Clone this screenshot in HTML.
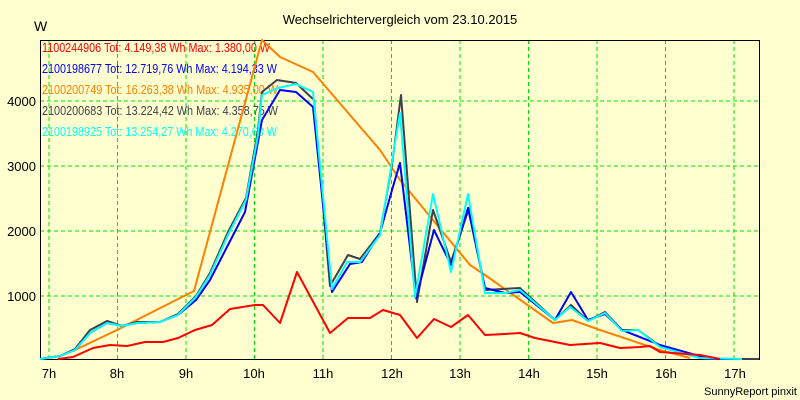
<!DOCTYPE html>
<html><head><meta charset="utf-8"><style>
html,body{margin:0;padding:0;background:#ffffd0;}
svg{display:block;font-family:"Liberation Sans",Arial,sans-serif;}
</style></head><body>
<svg width="800" height="400" viewBox="0 0 800 400" xmlns="http://www.w3.org/2000/svg">
<rect width="800" height="400" fill="#ffffd0"/>
<text x="400" y="24" font-size="13" text-anchor="middle" fill="#000">Wechselrichtervergleich vom 23.10.2015</text>
<text x="34" y="31" font-size="14" fill="#000">W</text>
<g stroke="#00e000" stroke-width="1" stroke-dasharray="4,3">
<line x1="40" y1="101" x2="759" y2="101"/><line x1="40" y1="166" x2="759" y2="166"/>
<line x1="40" y1="231" x2="759" y2="231"/><line x1="40" y1="296" x2="759" y2="296"/>
<line x1="49" y1="40" x2="49" y2="359"/><line x1="117.5" y1="40" x2="117.5" y2="359"/>
<line x1="186" y1="40" x2="186" y2="359"/><line x1="254.5" y1="40" x2="254.5" y2="359"/>
<line x1="323" y1="40" x2="323" y2="359"/><line x1="391.5" y1="40" x2="391.5" y2="359"/>
<line x1="460" y1="40" x2="460" y2="359"/><line x1="528.5" y1="40" x2="528.5" y2="359"/>
<line x1="597" y1="40" x2="597" y2="359"/><line x1="665.5" y1="40" x2="665.5" y2="359"/>
<line x1="734" y1="40" x2="734" y2="359"/>
</g>
<rect x="40.5" y="40.5" width="719" height="319" fill="none" stroke="#000" stroke-width="1"/>
<g font-size="13" fill="#000" text-anchor="end">
<text x="36" y="106">4000</text><text x="36" y="171">3000</text><text x="36" y="236">2000</text><text x="36" y="301">1000</text>
</g>
<g font-size="13" fill="#000" text-anchor="middle">
<text x="49" y="378">7h</text><text x="117" y="378">8h</text><text x="186" y="378">9h</text><text x="254" y="378">10h</text>
<text x="323" y="378">11h</text><text x="392" y="378">12h</text><text x="460" y="378">13h</text><text x="529" y="378">14h</text>
<text x="597" y="378">15h</text><text x="666" y="378">16h</text><text x="735" y="378">17h</text>
</g>
<text x="797" y="395" font-size="11" text-anchor="end" fill="#000">SunnyReport pinxit</text>
<g font-size="12.5" lengthAdjust="spacingAndGlyphs">
<text x="42" y="52" fill="#ff0000" textLength="228" lengthAdjust="spacingAndGlyphs">1100244906 Tot: 4.149,38 Wh Max: 1.380,00 W</text>
<text x="42" y="73" fill="#0000ff" textLength="235" lengthAdjust="spacingAndGlyphs">2100198677 Tot: 12.719,76 Wh Max: 4.194,33 W</text>
<text x="42" y="94" fill="#ff8000" textLength="236" lengthAdjust="spacingAndGlyphs">2100200749 Tot: 16.263,38 Wh Max: 4.935,00 W</text>
<text x="42" y="115" fill="#404050" textLength="236" lengthAdjust="spacingAndGlyphs">2100200683 Tot: 13.224,42 Wh Max: 4.358,75 W</text>
<text x="42" y="136" fill="#00ffff" textLength="235" lengthAdjust="spacingAndGlyphs">2100198925 Tot: 13.254,27 Wh Max: 4.270,60 W</text>
</g>
<g fill="none" stroke-width="2" stroke-linejoin="round">
<polyline stroke="#ff8000" points="40,359 60,356 75,350 117,330 180,298 194,291 262,40 280,57 313,72 380,150 400,180 470,265 485,275 553,323 572,320 600,330 660,350 690,358"/>
<polyline stroke="#404050" points="40,359 60,356 75,349 90,330 107,321 122,326 137,322 160,322 178,314 196,296 210,273 228,232 246,198 258,130 262,92 277,80 296,83 314,100 330,286 348,255 360,259 380,233 392,165 401,95 417,302 433,210 451,262 469,208 485,290 520,288 555,320 571,305 588,321 605,312 622,330 638,330 660,346 700,358 712,359 759,359"/>
<polyline stroke="#0000ff" points="40,359 60,356 75,350 90,333 107,323 122,326 137,323 160,322 178,315 196,300 210,280 228,245 245,212 262,120 280,90 296,92 313,107 332,292 350,264 362,262 380,233 392,190 400,163 416,298 434,230 451,265 468,208 485,288 505,293 520,292 555,320 571,292 588,320 605,314 622,330 660,345 710,359 740,359"/>
<polyline stroke="#00ffff" points="40,359 60,356 75,350 90,333 107,323 122,326 137,323 160,322 178,315 196,297 210,275 228,235 246,200 258,135 262,95 278,88 296,84 313,92 332,289 347,262 360,262 380,235 400,113 415,297 433,194 451,272 468,194 485,293 505,293 520,290 555,320 570,307 588,321 605,313 622,331 638,330 660,347 700,358 742,359"/>
<polyline stroke="#ff0000" points="58,359 73,357 93,348 110,345 127,346 145,342 163,342 178,338 195,330 212,325 230,309 255,305 263,305 280,323 297,272 330,333 348,318 370,318 383,310 400,315 417,338 434,319 451,327 468,315 485,335 505,334 520,333 535,338 570,345 600,343 620,348 640,347 650,346 660,352 700,355 720,359"/>
</g>
</svg>
</body></html>
